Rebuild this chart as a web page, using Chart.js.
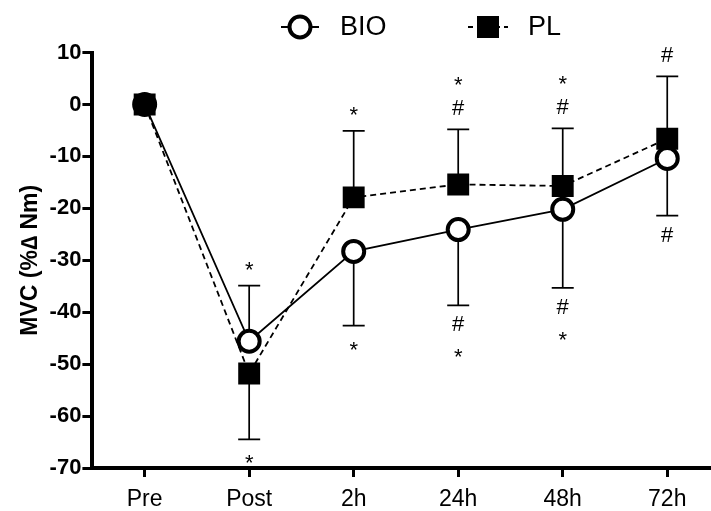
<!DOCTYPE html>
<html>
<head>
<meta charset="utf-8">
<script src="https://cdn.jsdelivr.net/npm/chart.js@4.4.1/dist/chart.umd.min.js"></script>
<style>
  html, body { margin: 0; padding: 0; background: #fff; overflow: hidden; }
  #wrap { width: 735px; height: 522px; }
</style>
</head>
<body>
<div id="wrap"><canvas id="mvc"></canvas></div>
<script>
var labels = ['Pre', 'Post', '2h', '24h', '48h', '72h'];

var bioMean = [0, -45.6, -28.3, -24.1, -20.2, -10.4];
var bioErr = [0, 10.7, 14.3, 14.6, 15.1, 11.0];
var bioDir = [0, 1, -1, -1, -1, -1];      // 1 = bar goes up, -1 = down
var bioMarks = ['', '*', '*', '#*', '#*', '#'];

var plMean = [0, -51.8, -17.9, -15.4, -15.7, -6.6];
var plErr = [0, 12.7, 12.8, 10.6, 11.1, 12.0];
var plDir = [0, -1, 1, 1, 1, 1];
var plMarks = ['', '*', '*', '#*', '#*', '#'];

var yTicks = [10, 0, -10, -20, -30, -40, -50, -60, -70];

var errSets = [
    { mean: bioMean, err: bioErr, dir: bioDir, marks: bioMarks },
    { mean: plMean, err: plErr, dir: plDir, marks: plMarks }
];

var FONT = '"Liberation Sans", Arial, sans-serif';

// error bars + significance marks + legend
var errorBars = {
    id: 'errorBars',
    beforeDatasetsDraw: function (chart) {
        var c = chart.ctx;
        var x = chart.scales.x, y = chart.scales.y;
        c.save();
        c.strokeStyle = '#000';
        c.lineWidth = 1.7;
        errSets.forEach(function (s) {
            s.mean.forEach(function (m, i) {
                if (!s.err[i]) return;
                var px = x.getPixelForValue(i);
                var p0 = y.getPixelForValue(m);
                var p1 = y.getPixelForValue(m + s.dir[i] * s.err[i]);
                c.beginPath();
                c.moveTo(px, p0); c.lineTo(px, p1);
                c.moveTo(px - 11, p1); c.lineTo(px + 11, p1);
                c.stroke();
            });
        });
        c.restore();
    },
    afterDraw: function (chart) {
        var c = chart.ctx;
        var x = chart.scales.x, y = chart.scales.y;
        c.save();
        c.fillStyle = '#000';
        c.textAlign = 'center';
        c.textBaseline = 'middle';
        c.font = '22px ' + FONT;
        errSets.forEach(function (s) {
            s.marks.forEach(function (txt, i) {
                if (!txt) return;
                var px = x.getPixelForValue(i);
                var end = y.getPixelForValue(s.mean[i] + s.dir[i] * s.err[i]);
                txt.split('').forEach(function (ch, k) {
                    var py = end - s.dir[i] * (20 + k * 28);
                    if (ch === '*') py += 5;
                    c.fillText(ch, px, py);
                });
            });
        });

        // legend
        var ly = 27;
        c.strokeStyle = '#000';
        c.lineWidth = 2;
        c.beginPath(); c.moveTo(281, ly); c.lineTo(319, ly); c.stroke();
        c.lineWidth = 4;
        c.fillStyle = '#fff';
        c.beginPath(); c.arc(300, ly, 10.5, 0, Math.PI * 2); c.fill(); c.stroke();
        c.lineWidth = 2;
        c.setLineDash([5, 4]);
        c.beginPath(); c.moveTo(468, ly); c.lineTo(508, ly); c.stroke();
        c.setLineDash([]);
        c.fillStyle = '#000';
        c.fillRect(488 - 11, ly - 11, 22, 22);
        c.font = '27px ' + FONT;
        c.textAlign = 'left';
        c.fillText('BIO', 340, ly + 1);
        c.fillText('PL', 528, ly + 1);
        c.restore();
    }
};

new Chart(document.getElementById('mvc'), {
    type: 'line',
    data: {
        labels: labels,
        datasets: [{
            label: 'BIO',
            data: bioMean,
            borderColor: '#000',
            borderWidth: 1.8,
            pointStyle: 'circle',
            pointRadius: 10.5,
            pointBorderWidth: 4,
            pointBackgroundColor: '#fff',
            pointBorderColor: '#000',
            order: 1
        }, {
            label: 'PL',
            data: plMean,
            borderColor: '#000',
            borderWidth: 1.8,
            borderDash: [6, 4],
            pointStyle: 'rect',
            pointRadius: 15.5,
            pointBorderWidth: 0,
            pointBackgroundColor: '#000',
            pointBorderColor: '#000',
            order: 0
        }]
    },
    options: {
        responsive: true,
        maintainAspectRatio: false,
        animation: false,
        layout: { padding: { top: 52.5, right: 11, bottom: 0, left: 17 } },
        plugins: { legend: { display: false }, tooltip: { enabled: false } },
        scales: {
            x: {
                offset: true,
                grid: { display: true, offset: false, drawOnChartArea: false, drawTicks: true, tickLength: 9, lineWidth: 3, color: '#000' },
                border: { display: true, width: 4, color: '#000' },
                ticks: { color: '#000', padding: 11, font: { family: FONT, size: 23, lineHeight: 1 } }
            },
            y: {
                min: -70,
                max: 10,
                afterBuildTicks: function (axis) {
                    axis.ticks = yTicks.map(function (v) { return { value: v }; });
                },
                grid: { display: true, drawOnChartArea: false, drawTicks: true, tickLength: 10, lineWidth: 3, color: '#000' },
                border: { display: true, width: 4, color: '#000' },
                ticks: { color: '#000', padding: 1, font: { family: FONT, size: 22, weight: 'bold' } },
                title: {
                    display: true,
                    text: 'MVC (%\u2206 Nm)',
                    color: '#000',
                    padding: { top: 0, bottom: 4 },
                    font: { family: FONT, size: 23, weight: 'bold' }
                }
            }
        }
    },
    plugins: [errorBars]
});
</script>
</body>
</html>
